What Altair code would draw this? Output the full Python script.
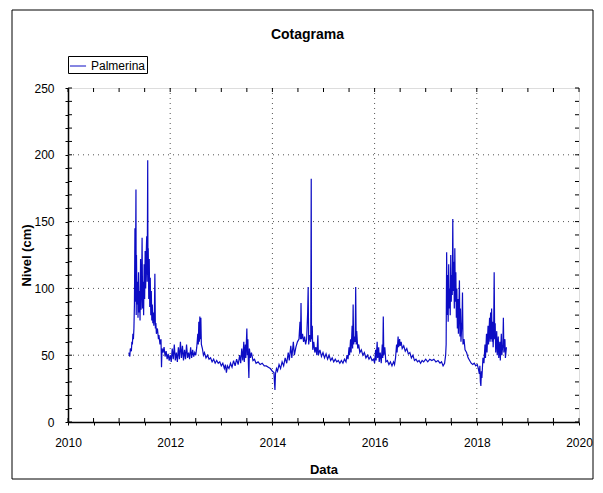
import altair as alt
import pandas as pd

years = [
    2011.19, 2011.21, 2011.22, 2011.24, 2011.25, 2011.26, 2011.27, 2011.28, 2011.29, 2011.30,
    2011.31, 2011.315, 2011.32, 2011.33, 2011.335, 2011.34, 2011.35, 2011.36, 2011.37, 2011.38,
    2011.39, 2011.40, 2011.41, 2011.42, 2011.43, 2011.44, 2011.45, 2011.46, 2011.47, 2011.48,
    2011.49, 2011.50, 2011.51, 2011.52, 2011.53, 2011.54, 2011.55, 2011.56, 2011.565, 2011.57,
    2011.58, 2011.59, 2011.60, 2011.61, 2011.62, 2011.63, 2011.64, 2011.65, 2011.66, 2011.67,
    2011.68, 2011.69, 2011.70, 2011.71, 2011.72, 2011.73, 2011.75, 2011.77, 2011.78, 2011.80,
    2011.82, 2011.83, 2011.84, 2011.86, 2011.88, 2011.90, 2011.92, 2011.94, 2011.96, 2011.98,
    2012.00, 2012.02, 2012.04, 2012.06, 2012.08, 2012.10, 2012.12, 2012.14, 2012.16, 2012.18,
    2012.20, 2012.22, 2012.24, 2012.26, 2012.28, 2012.30, 2012.32, 2012.34, 2012.36, 2012.38,
    2012.40, 2012.42, 2012.44, 2012.46, 2012.48, 2012.50, 2012.52, 2012.54, 2012.55, 2012.56,
    2012.57, 2012.58, 2012.59, 2012.60, 2012.61, 2012.63, 2012.65, 2012.67, 2012.70, 2012.73,
    2012.76, 2012.79, 2012.82, 2012.85, 2012.88, 2012.91, 2012.94, 2012.97, 2013.00, 2013.03,
    2013.06, 2013.08, 2013.10, 2013.12, 2013.15, 2013.18, 2013.21, 2013.24, 2013.27, 2013.30,
    2013.33, 2013.36, 2013.38, 2013.40, 2013.42, 2013.44, 2013.45, 2013.47, 2013.48, 2013.50,
    2013.51, 2013.52, 2013.53, 2013.54, 2013.55, 2013.57, 2013.59, 2013.62, 2013.65, 2013.68,
    2013.72, 2013.76, 2013.80, 2013.84, 2013.88, 2013.92, 2013.96, 2014.00, 2014.03, 2014.04,
    2014.05, 2014.06, 2014.08, 2014.10, 2014.13, 2014.16, 2014.19, 2014.22, 2014.25, 2014.28,
    2014.31, 2014.33, 2014.36, 2014.38, 2014.41, 2014.43, 2014.46, 2014.49, 2014.52, 2014.54,
    2014.55, 2014.56, 2014.57, 2014.59, 2014.61, 2014.63, 2014.65, 2014.67, 2014.69, 2014.70,
    2014.71, 2014.73, 2014.75, 2014.76, 2014.765, 2014.78, 2014.79, 2014.81, 2014.83, 2014.85,
    2014.87, 2014.89, 2014.90, 2014.93, 2014.96, 2014.99, 2015.02, 2015.05, 2015.08, 2015.11,
    2015.14, 2015.17, 2015.20, 2015.23, 2015.26, 2015.29, 2015.32, 2015.35, 2015.38, 2015.41,
    2015.44, 2015.46, 2015.48, 2015.50, 2015.51, 2015.53, 2015.54, 2015.56, 2015.57, 2015.58,
    2015.59, 2015.61, 2015.62, 2015.63, 2015.64, 2015.65, 2015.67, 2015.69, 2015.71, 2015.74,
    2015.77, 2015.80, 2015.83, 2015.86, 2015.89, 2015.92, 2015.95, 2015.98, 2016.00, 2016.02,
    2016.03, 2016.05, 2016.06, 2016.08, 2016.09, 2016.11, 2016.13, 2016.15, 2016.16, 2016.17,
    2016.18, 2016.20, 2016.22, 2016.25, 2016.28, 2016.31, 2016.34, 2016.37, 2016.39, 2016.41,
    2016.43, 2016.44, 2016.46, 2016.47, 2016.49, 2016.50, 2016.52, 2016.54, 2016.57, 2016.60,
    2016.63, 2016.66, 2016.69, 2016.72, 2016.75, 2016.78, 2016.81, 2016.84, 2016.87, 2016.90,
    2016.93, 2016.96, 2017.00, 2017.04, 2017.08, 2017.12, 2017.16, 2017.20, 2017.24, 2017.28,
    2017.31, 2017.34, 2017.37, 2017.39, 2017.40, 2017.41, 2017.42, 2017.43, 2017.44, 2017.45,
    2017.46, 2017.47, 2017.48, 2017.49, 2017.50, 2017.51, 2017.52, 2017.53, 2017.54, 2017.55,
    2017.56, 2017.57, 2017.58, 2017.59, 2017.60, 2017.61, 2017.62, 2017.63, 2017.64, 2017.66,
    2017.67, 2017.68, 2017.69, 2017.71, 2017.72, 2017.73, 2017.75, 2017.77, 2017.80, 2017.83,
    2017.86, 2017.89, 2017.92, 2017.95, 2017.98, 2018.01, 2018.03, 2018.05, 2018.06, 2018.07,
    2018.08, 2018.09, 2018.10, 2018.12, 2018.14, 2018.16, 2018.17, 2018.19, 2018.20, 2018.22,
    2018.23, 2018.25, 2018.26, 2018.27, 2018.28, 2018.29, 2018.30, 2018.31, 2018.32, 2018.33,
    2018.34, 2018.35, 2018.36, 2018.37, 2018.39, 2018.40, 2018.42, 2018.43, 2018.45, 2018.46,
    2018.48, 2018.49, 2018.51, 2018.52, 2018.53, 2018.55, 2018.56, 2018.58,
]

levels = [
    52, 49, 55, 53, 60, 58, 66, 62, 70, 88,
    145, 90, 108, 174, 80, 125, 88, 105, 78, 112,
    82, 98, 76, 122, 84, 100, 138, 85, 105, 80,
    118, 92, 128, 100, 125, 139, 105, 196, 110, 130,
    92, 122, 86, 108, 80, 98, 76, 88, 74, 82,
    72, 78, 111, 70, 74, 66, 70, 62, 65, 58,
    62, 41, 55, 52, 56, 49, 53, 47, 51, 46,
    50, 45, 55, 47, 58, 46, 52, 45, 56, 47,
    60, 48, 57, 46, 54, 47, 58, 48, 52, 47,
    56, 48, 54, 49, 52, 50, 56, 66, 58, 75,
    60, 79, 62, 78, 58, 55, 50, 52, 48, 50,
    47, 48, 45, 47, 44, 46, 44, 45, 42, 44,
    40, 43, 37, 42, 40, 44, 41, 46, 42, 47,
    43, 50, 44, 55, 46, 60, 45, 58, 48, 70,
    50, 62, 44, 33, 55, 48, 52, 46, 47, 44,
    45, 43, 44, 42, 42, 41, 40, 38, 37, 30,
    24, 36, 40, 38, 43, 40, 45, 42, 48, 44,
    52, 46, 57, 48, 60, 50, 56, 60, 62, 75,
    62, 89, 62, 66, 60, 64, 58, 62, 82, 101,
    58, 65, 60, 182, 62, 72, 54, 60, 52, 56,
    50, 65, 50, 54, 49, 52, 48, 51, 47, 50,
    46, 48, 45, 47, 45, 46, 44, 46, 44, 47,
    45, 50, 47, 56, 50, 62, 52, 72, 55, 88,
    58, 64, 60, 101, 58, 68, 55, 58, 52, 54,
    50, 52, 48, 50, 47, 49, 46, 47, 44, 54,
    46, 60, 48, 56, 45, 52, 44, 58, 48, 79,
    50, 56, 45, 46, 43, 45, 42, 45, 43, 48,
    58, 52, 64, 56, 62, 57, 60, 55, 57, 53,
    55, 51, 52, 48, 50, 46, 47, 45, 46, 44,
    46, 45, 47, 45, 47, 46, 47, 45, 46, 44,
    45, 42, 44, 50, 58, 127, 80, 110, 75, 118,
    85, 100, 80, 125, 90, 110, 95, 152, 98, 120,
    85, 130, 90, 112, 78, 100, 70, 92, 66, 106,
    64, 85, 60, 75, 97, 58, 62, 54, 52, 48,
    46, 44, 43, 44, 42, 43, 40, 36, 42, 30,
    27, 38, 33, 48, 44, 58, 48, 66, 52, 72,
    58, 78, 60, 82, 62, 85, 60, 75, 56, 68,
    112, 62, 74, 52, 68, 50, 64, 48, 60, 46,
    66, 50, 58, 78, 52, 62, 48, 56,
]

series_name = "Palmerina"
grid_years = [2012, 2014, 2016, 2018]
grid_levels = [50, 100, 150, 200]
x_ticks = [2010, 2010.5, 2011, 2011.5, 2012, 2012.5, 2013, 2013.5, 2014, 2014.5, 2015,
           2015.5, 2016, 2016.5, 2017, 2017.5, 2018, 2018.5, 2019, 2019.5, 2020]
y_ticks = [0, 10, 20, 30, 40, 50, 60, 70, 80, 90, 100, 110, 120, 130, 140, 150, 160,
           170, 180, 190, 200, 210, 220, 230, 240, 250]

W, H = 511, 334
FONT = "Liberation Sans Narrow, Arial Narrow, Liberation Sans, sans-serif"

df = pd.DataFrame({"x": years, "y": levels, "serie": [series_name] * len(years)})
gx = pd.DataFrame({"x": grid_years})
gy = pd.DataFrame({"y": grid_levels})
tx = pd.DataFrame({"x": x_ticks})
ty = pd.DataFrame({"y": y_ticks})

xscale = alt.Scale(domain=[2010, 2020], nice=False, zero=False)
yscale = alt.Scale(domain=[0, 250], nice=False)

xaxis = alt.Axis(
    title="Data", values=x_ticks,
    labelExpr="datum.value % 2 === 0 ? format(datum.value, 'd') : ''",
    grid=False, tickSize=3, tickColor="black", domainColor="black", domainWidth=1.5,
    labelFont=FONT, labelFontSize=12, labelColor="black", labelPadding=12,
    labelFlush=False, labelOverlap=False,
    titleFont=FONT, titleFontSize=13, titleFontWeight="bold", titleColor="black",
    titlePadding=15,
)
yaxis = alt.Axis(
    title="Nivel (cm)", values=y_ticks,
    labelExpr="datum.value % 50 === 0 ? format(datum.value, 'd') : ''",
    grid=False, tickSize=3, tickColor="black", domainColor="black", domainWidth=1.5,
    labelFont=FONT, labelFontSize=12, labelColor="black", labelPadding=11,
    labelFlush=False, labelOverlap=False,
    titleFont=FONT, titleFontSize=13, titleFontWeight="bold", titleColor="black",
    titlePadding=0,
)

X = alt.X("x:Q", scale=xscale, axis=xaxis)
Y = alt.Y("y:Q", scale=yscale, axis=yaxis)

frame = alt.Chart(pd.DataFrame({"k": [0]})).mark_rect(
    fillOpacity=0, stroke="black", strokeWidth=1
).encode(x=alt.value(-56), x2=alt.value(525), y=alt.value(-78), y2=alt.value(391))

grid_v = alt.Chart(gx).mark_rule(color="#555555", strokeDash=[1, 4], strokeWidth=1).encode(x=X)
grid_h = alt.Chart(gy).mark_rule(color="#555555", strokeDash=[1, 4], strokeWidth=1).encode(y=Y)

line = alt.Chart(df).mark_line(strokeWidth=1.2, interpolate="linear").encode(
    x=X, y=Y,
    color=alt.Color(
        "serie:N",
        scale=alt.Scale(range=["#0c0cc4"]),
        legend=alt.Legend(
            title=None, orient="none", legendX=0, legendY=-32,
            direction="vertical", fillColor="white", strokeColor="black",
            padding=1, symbolType="stroke", symbolSize=260, symbolStrokeWidth=1,
            labelFont=FONT, labelFontSize=12, labelColor="black", labelOffset=4,
        ),
    ),
)

tick_bottom = alt.Chart(tx).mark_rule(color="black").encode(x=X, y=alt.value(H), y2=alt.value(H - 4))
tick_top = alt.Chart(tx).mark_rule(color="black").encode(x=X, y=alt.value(0), y2=alt.value(4))
tick_left = alt.Chart(ty).mark_rule(color="black").encode(y=Y, x=alt.value(0), x2=alt.value(4))
tick_right = alt.Chart(ty).mark_rule(color="black").encode(y=Y, x=alt.value(W), x2=alt.value(W - 4))

chart = alt.layer(
    frame, grid_v, grid_h, line, tick_bottom, tick_top, tick_left, tick_right
).properties(
    width=W, height=H,
    title=alt.TitleParams(
        "Cotagrama", font=FONT, fontSize=14, fontWeight="bold", color="black",
        offset=-32, dx=-16,
    ),
    padding={"left": 60, "top": 80, "right": 16, "bottom": 63},
    autosize=alt.AutoSizeParams(type="none"),
).configure_view(stroke="black", strokeWidth=1.5).configure(background="white")

chart.save("out.html", embed_options={"renderer": "svg", "actions": False})
